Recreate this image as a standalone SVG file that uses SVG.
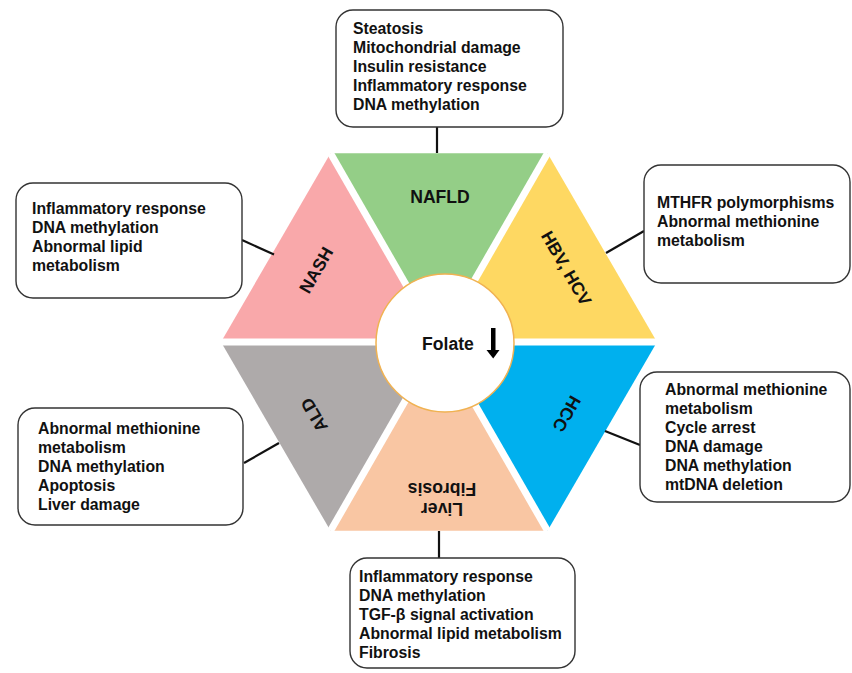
<svg xmlns="http://www.w3.org/2000/svg" width="852" height="673" viewBox="0 0 852 673">
<style>
.box{fill:#fff;stroke:#333;stroke-width:1.4}
.bt{font-family:"Liberation Sans",Arial,sans-serif;font-weight:bold;font-size:15.8px;fill:#111}
.lab{font-family:"Liberation Sans",Arial,sans-serif;font-weight:bold;font-size:17.6px;fill:#111;text-anchor:middle}
.conn{stroke:#111;stroke-width:2.2;fill:none}
.gap{stroke:#fff;stroke-width:7}
</style>
<rect width="852" height="673" fill="#fff"/>
<g id="hexagon">
  <polygon id="t-nafld" points="439,342 330.5,153.2 547.5,153.2" fill="#94CE87"/>
  <polygon id="t-hbv" points="439,342 547.5,153.2 657,342" fill="#FED862"/>
  <polygon id="t-hcc" points="439,342 657,342 547.5,530.8" fill="#00B0EE"/>
  <polygon id="t-fib" points="439,342 547.5,530.8 330.5,530.8" fill="#F9C6A3"/>
  <polygon id="t-ald" points="439,342 330.5,530.8 221,342" fill="#AEAAAA"/>
  <polygon id="t-nash" points="439,342 221,342 330.5,153.2" fill="#F9A8AA"/>
  <line class="gap" x1="221" y1="342" x2="657" y2="342"/>
  <line class="gap" x1="330.5" y1="153.2" x2="547.5" y2="530.8"/>
  <line class="gap" x1="547.5" y1="153.2" x2="330.5" y2="530.8"/>
</g>
<g id="label-nafld"><text class="lab" x="440" y="202.5">NAFLD</text></g>
<g id="label-nash"><text class="lab" transform="translate(316,270) rotate(-60)" y="6.3">NASH</text></g>
<g id="label-hbv"><text class="lab" transform="translate(566.5,268) rotate(60)" y="6.3">HBV, HCV</text></g>
<g id="label-hcc"><text class="lab" transform="translate(567,414) rotate(120)" y="6.3">HCC</text></g>
<g id="label-ald"><text class="lab" transform="translate(314,415) rotate(-120)" y="6.3">ALD</text></g>
<g id="label-fib"><text class="lab" transform="translate(442,499) rotate(180)"><tspan x="0" y="-4">Liver</tspan><tspan x="0" y="16.5">Fibrosis</tspan></text></g>
<g id="folate">
  <circle cx="445" cy="343" r="69" fill="#fff" stroke="#F0B252" stroke-width="1.5"/>
  <text class="lab" x="448" y="350">Folate</text>
  <rect x="491" y="328" width="4.5" height="22.5" fill="#000"/>
  <polygon points="486.5,350 499.5,350 493.2,358.5" fill="#000"/>
</g>
<g id="connectors">
  <line class="conn" x1="437" y1="127" x2="437" y2="153"/>
  <line class="conn" x1="242" y1="240" x2="274" y2="254.5"/>
  <line class="conn" x1="606" y1="253" x2="644" y2="231"/>
  <line class="conn" x1="605" y1="431" x2="640" y2="445"/>
  <line class="conn" x1="244" y1="463" x2="279" y2="443"/>
  <line class="conn" x1="439" y1="531" x2="439" y2="558"/>
</g>
<g id="box-nafld">
  <rect class="box" x="336" y="10" width="227" height="117" rx="17"/>
  <text class="bt"><tspan x="353" y="34">Steatosis</tspan><tspan x="353" y="53">Mitochondrial damage</tspan><tspan x="353" y="72">Insulin resistance</tspan><tspan x="353" y="91">Inflammatory response</tspan><tspan x="353" y="110">DNA methylation</tspan></text>
</g>
<g id="box-nash">
  <rect class="box" x="16" y="183" width="226" height="115" rx="17"/>
  <text class="bt"><tspan x="32" y="214">Inflammatory response</tspan><tspan x="32" y="233">DNA methylation</tspan><tspan x="32" y="252">Abnormal lipid</tspan><tspan x="32" y="271">metabolism</tspan></text>
</g>
<g id="box-hbv">
  <rect class="box" x="644" y="165" width="206" height="118" rx="17"/>
  <text class="bt"><tspan x="657" y="208">MTHFR polymorphisms</tspan><tspan x="657" y="227">Abnormal methionine</tspan><tspan x="657" y="246">metabolism</tspan></text>
</g>
<g id="box-hcc">
  <rect class="box" x="640" y="372" width="210" height="130" rx="17"/>
  <text class="bt"><tspan x="665" y="395">Abnormal methionine</tspan><tspan x="665" y="414">metabolism</tspan><tspan x="665" y="433">Cycle arrest</tspan><tspan x="665" y="452">DNA damage</tspan><tspan x="665" y="471">DNA methylation</tspan><tspan x="665" y="490">mtDNA deletion</tspan></text>
</g>
<g id="box-ald">
  <rect class="box" x="18" y="408" width="225" height="117" rx="17"/>
  <text class="bt"><tspan x="38" y="434">Abnormal methionine</tspan><tspan x="38" y="453">metabolism</tspan><tspan x="38" y="472">DNA methylation</tspan><tspan x="38" y="491">Apoptosis</tspan><tspan x="38" y="510">Liver damage</tspan></text>
</g>
<g id="box-fib">
  <rect class="box" x="350" y="558" width="225" height="110" rx="17"/>
  <text class="bt"><tspan x="359" y="582">Inflammatory response</tspan><tspan x="359" y="601">DNA methylation</tspan><tspan x="359" y="620">TGF-β signal activation</tspan><tspan x="359" y="639">Abnormal lipid metabolism</tspan><tspan x="359" y="658">Fibrosis</tspan></text>
</g>
</svg>
